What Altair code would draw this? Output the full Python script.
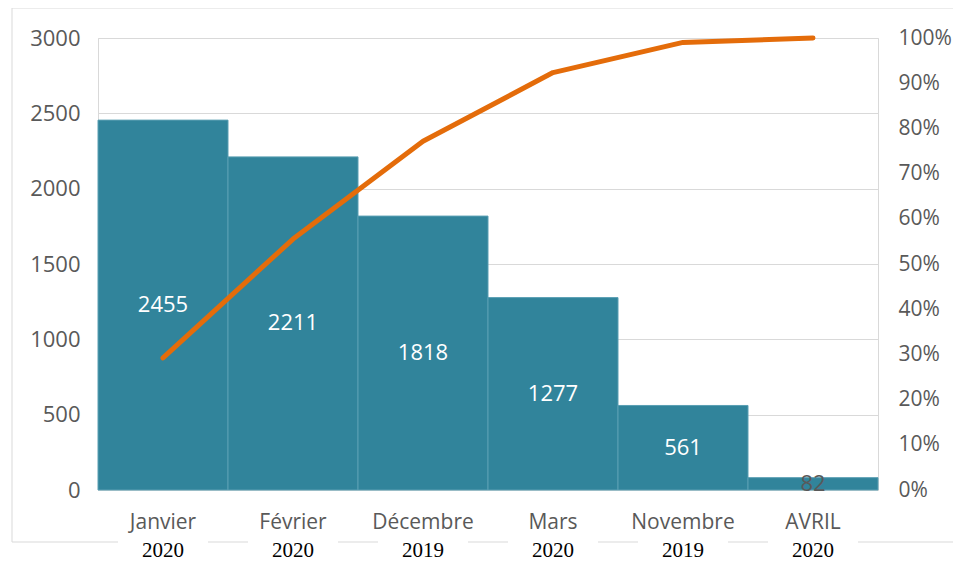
import altair as alt
import pandas as pd

months = ["Janvier", "Février", "Décembre", "Mars", "Novembre", "AVRIL"]
years = ["2020", "2020", "2019", "2020", "2019", "2020"]
counts = [2455, 2211, 1818, 1277, 561, 82]

df = pd.DataFrame({"month": months, "year": years, "count": counts,
                   "rank": list(range(len(months)))})

W, H = 780, 452
FONT = "Open Sans"
GREY = "#595959"
GRID = "#d9d9d9"
TEAL = "#31849B"
ORANGE = "#E46C0A"

xenc = alt.X("month:N", sort=months,
             scale=alt.Scale(paddingInner=0, paddingOuter=0),
             axis=alt.Axis(title=None, labelAngle=0, domain=False, ticks=False,
                           labelPadding=21, labelFont=FONT, labelFontSize=21,
                           labelColor=GREY))

base = alt.Chart(df).encode(x=xenc)

frame = alt.Chart(pd.DataFrame({"a": [0]})).mark_rect(
    fillOpacity=0, stroke=GRID, strokeWidth=1
).encode(x=alt.value(-86), x2=alt.value(870), y=alt.value(-30), y2=alt.value(504))

ybar = alt.Y("count:Q", scale=alt.Scale(domain=[0, 3000], nice=False),
             axis=alt.Axis(title=None, values=[0, 500, 1000, 1500, 2000, 2500, 3000],
                           format="d",
                           grid=True, gridColor=GRID, domain=False, ticks=False,
                           labelPadding=18, labelFont=FONT, labelFontSize=22,
                           labelColor=GREY))

bars = base.mark_bar(color=TEAL, stroke="#5a9fb3", strokeWidth=1).encode(y=ybar)

labels = base.transform_calculate(mid="datum.count / 2").mark_text(
    font=FONT, fontSize=22, baseline="middle"
).encode(
    y=alt.Y("mid:Q", scale=alt.Scale(domain=[0, 3000], nice=False), axis=None),
    text=alt.Text("count:Q", format="d"),
    color=alt.condition("datum.count < 200", alt.value(GREY), alt.value("white")),
)

line = base.transform_window(
    cum="sum(count)", sort=[alt.SortField("rank")]
).transform_joinaggregate(total="sum(count)").transform_calculate(
    pct="datum.cum / datum.total"
).mark_line(color=ORANGE, strokeWidth=5, strokeCap="round", strokeJoin="round").encode(
    y=alt.Y("pct:Q", scale=alt.Scale(domain=[0, 1], nice=False),
            axis=alt.Axis(title=None, orient="right", format=".0%",
                          values=[i / 10 for i in range(11)], grid=False,
                          domain=False, ticks=False, labelPadding=20,
                          labelFont=FONT, labelFontSize=21, labelColor=GREY))
)

boxes = base.mark_bar(width=90, color="white").encode(
    y=alt.value(498), y2=alt.value(523)
)

yeartext = base.mark_text(font="Liberation Serif", fontSize=21, color="black",
                          baseline="middle").encode(
    y=alt.value(513), text="year:N"
)

chart = alt.layer(frame, bars, labels, line, boxes, yeartext).resolve_scale(
    y="independent"
).properties(
    width=W, height=H,
    autosize=alt.AutoSizeParams(type="none"),
    padding={"left": 90, "top": 30, "right": 75, "bottom": 71},
).configure_view(stroke=GRID, strokeWidth=1)

chart.save("out.html", embed_options={"renderer": "svg", "actions": False})
